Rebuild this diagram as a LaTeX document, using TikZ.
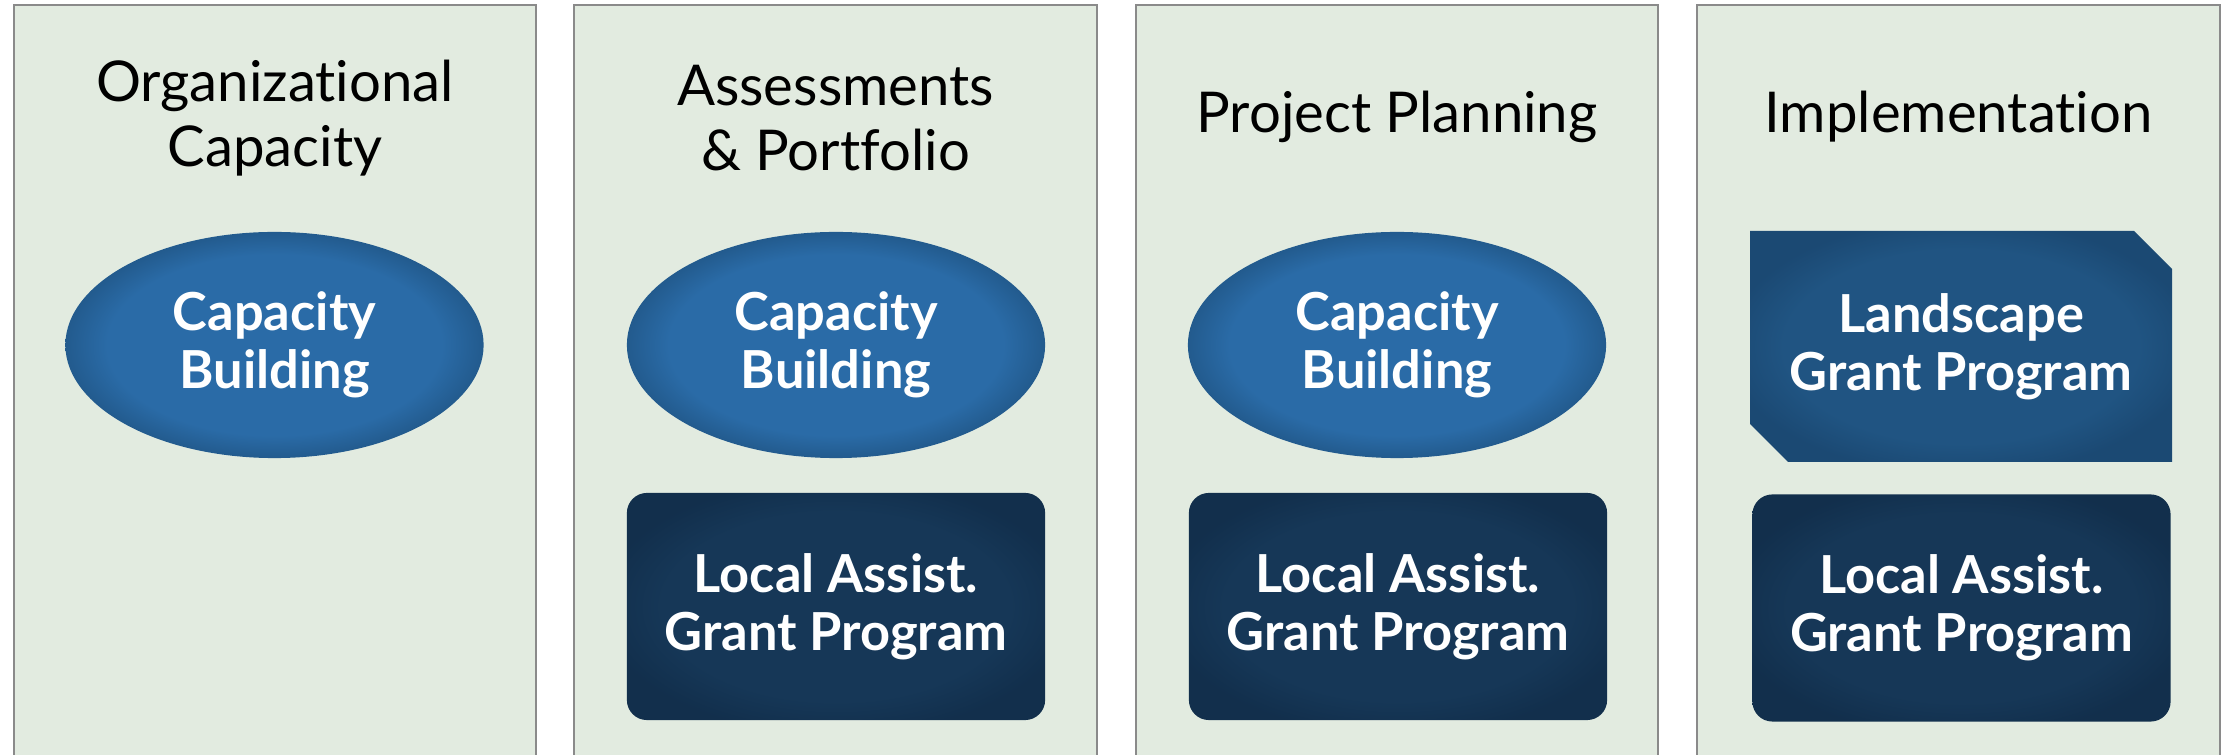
\documentclass[tikz,border=0pt]{standalone}
\usepackage{fontspec}
\setmainfont{Lato}[Ligatures=NoCommon]
\usetikzlibrary{shapes.geometric}
\definecolor{panelfill}{HTML}{E2EBE0}
\definecolor{panelline}{HTML}{8A8A8A}
\pgfdeclareradialshading{ellshade}{\pgfpoint{0bp}{0bp}}{rgb(0bp)=(0.165,0.42,0.655); rgb(20bp)=(0.165,0.42,0.655); rgb(25bp)=(0.135,0.355,0.555); rgb(50bp)=(0.135,0.355,0.555)}
\pgfdeclareradialshading{darkshade}{\pgfpoint{0bp}{0bp}}{rgb(0bp)=(0.085,0.215,0.34); rgb(21bp)=(0.085,0.215,0.34); rgb(28bp)=(0.07,0.185,0.3); rgb(50bp)=(0.07,0.185,0.3)}
\pgfdeclareradialshading{landshade}{\pgfpoint{0bp}{0bp}}{rgb(0bp)=(0.125,0.33,0.51); rgb(21bp)=(0.125,0.33,0.51); rgb(28bp)=(0.105,0.285,0.45); rgb(50bp)=(0.105,0.285,0.45)}
\tikzset{
  panel/.style={draw=panelline, line width=0.6pt, fill=panelfill, rectangle,
    minimum width=5.22cm, minimum height=7.95cm, inner sep=0pt},
  paneltitle/.style={font=\fontsize{16pt}{18.5pt}\selectfont, align=center, text=black},
  boldtext/.style={font=\fontsize{14.9pt}{16.5pt}\selectfont\bfseries, align=center, text=white},
  capell/.style={ellipse, shade, shading=ellshade, minimum width=4.18cm, minimum height=2.26cm, inner sep=0pt, boldtext},
  grantbox/.style={rectangle, rounded corners=0.2cm, shade, shading=darkshade, minimum width=4.18cm, minimum height=2.27cm, inner sep=0pt, boldtext},
  landshape/.style={shade, shading=landshade},
  landtext/.style={inner sep=0pt, boldtext}
}
\begin{document}
\begin{tikzpicture}[x=0.01cm,y=-0.01cm]
\clip (0,0) rectangle (2226,755);
\fill[white] (0,0) rectangle (2226,755);
% panels
\node[panel] (col1) at (275,402.5) {};
\node[panel] (col2) at (835.5,402.5) {};
\node[panel] (col3) at (1397,402.5) {};
\node[panel] (col4) at (1958.5,402.5) {};
% titles
\node[paneltitle] (t1) at (275,118) {Organizational\\Capacity};
\node[paneltitle] (t2) at (835.5,118) {Assessments\\\& Portfolio};
\node[paneltitle] (t3) at (1397,117) {Project Planning};
\node[paneltitle] (t4) at (1958.5,117) {Implementation};
% capacity building ellipses
\node[capell] (cb1) at (274.5,345) {Capacity\\Building};
\node[capell] (cb2) at (836,345) {Capacity\\Building};
\node[capell] (cb3) at (1397,345) {Capacity\\Building};
% landscape grant
\path[landshape] (1750,231) -- (2134,231) -- (2172,269) -- (2172,462) -- (1788,462) -- (1750,424) -- cycle;
\node[landtext] (lg4) at (1961,346.5) {Landscape\\Grant Program};
% local assist grant boxes
\node[grantbox] (la2) at (836,606.5) {Local Assist.\\Grant Program};
\node[grantbox] (la3) at (1398,606.5) {Local Assist.\\Grant Program};
\node[grantbox] (la4) at (1961.5,608) {Local Assist.\\Grant Program};
\end{tikzpicture}
\end{document}
